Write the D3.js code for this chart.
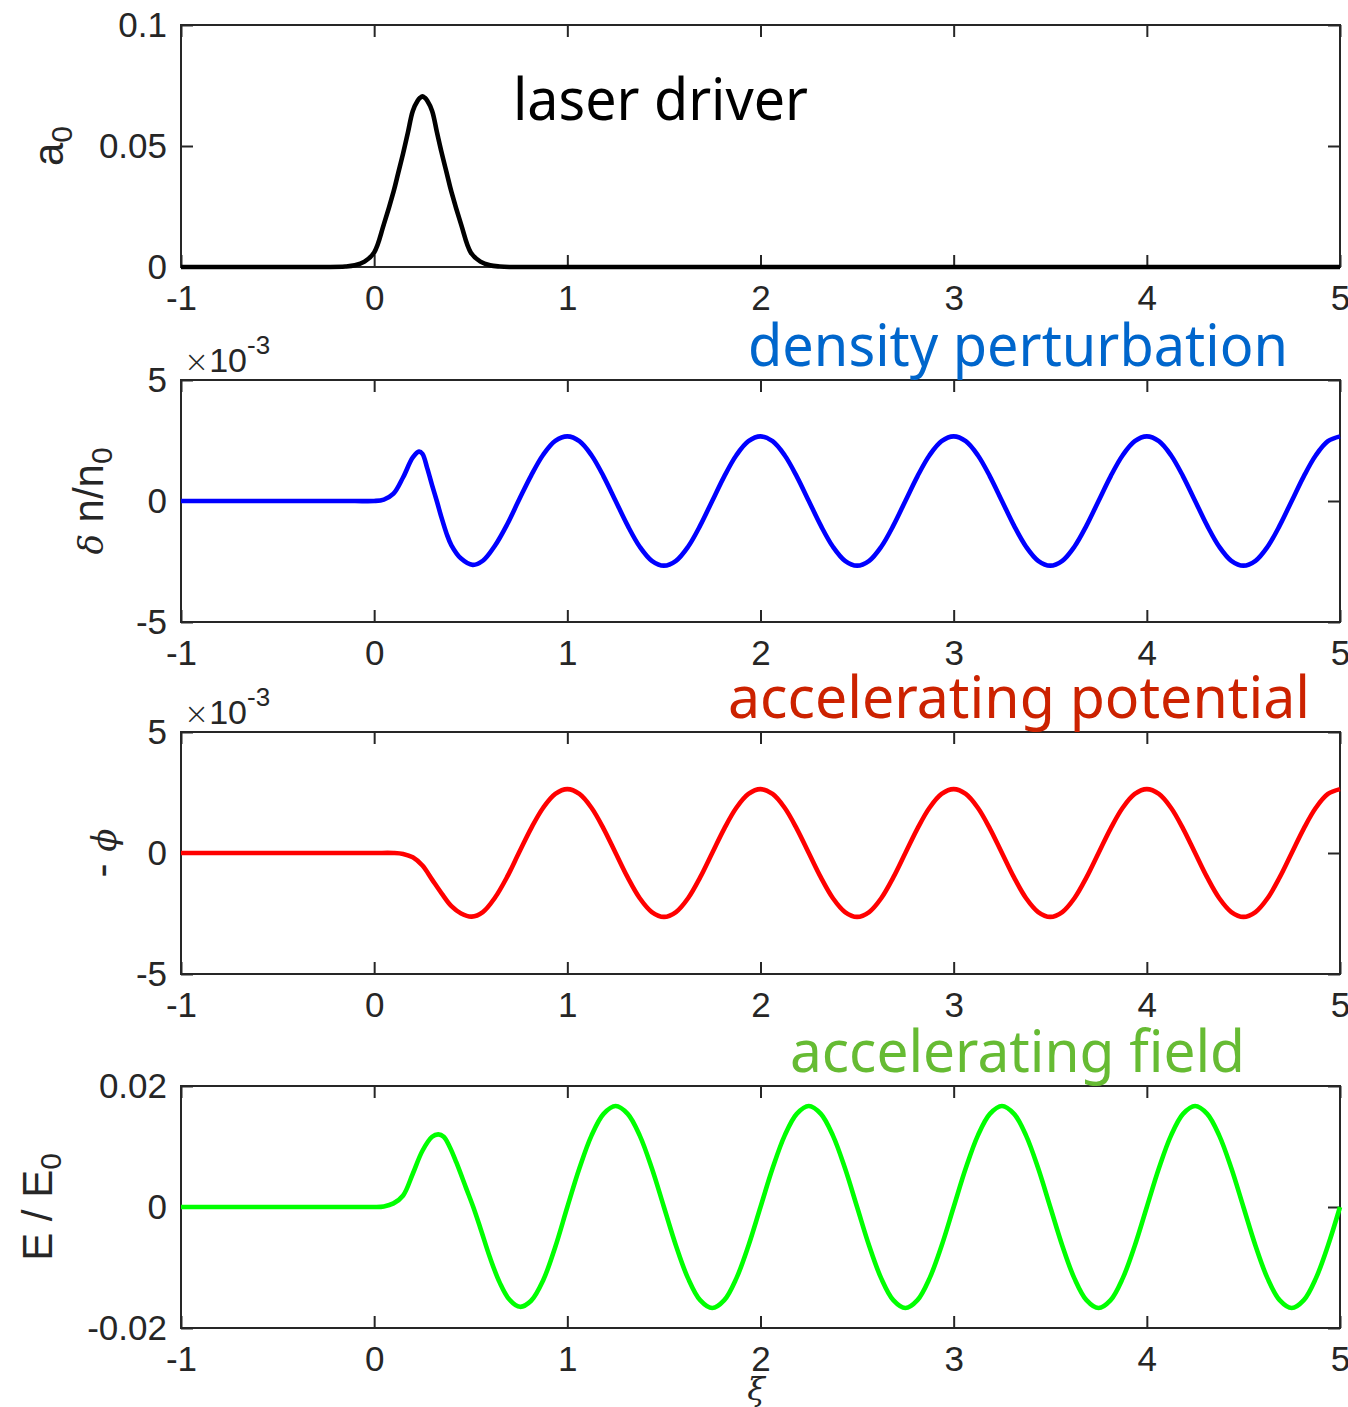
<!DOCTYPE html>
<html>
<head>
<meta charset="utf-8">
<script src="https://d3js.org/d3.v7.min.js"></script>
<style>
  body { margin: 0; background: #fff; }
  text { font-family: "Liberation Sans", Arial, sans-serif; }
</style>
</head>
<body>
<div id="viz"></div>
<script>
// shared x ticks (xi)
var xTicks = [-1, 0, 1, 2, 3, 4, 5];

// y ticks of each panel
var a0Ticks = [0, 0.05, 0.1];
var dnTicks = [-5, 0, 5];      // x 10^-3
var phiTicks = [-5, 0, 5];     // x 10^-3
var eTicks = [-0.02, 0, 0.02];

// laser driver a0
var laserX = [-1, -0.5, -0.25, -0.15, -0.1, -0.05, 0, 0.05, 0.1, 0.125, 0.15, 0.175, 0.2, 0.225, 0.2375, 0.25, 0.2625, 0.275, 0.3, 0.325, 0.35, 0.375, 0.4, 0.45, 0.5, 0.55, 0.6, 0.65, 0.7, 0.8, 1, 2, 3, 4, 5];
var laserY = [0, 0, 0, 0.0002, 0.0007, 0.0022, 0.006, 0.0176, 0.031, 0.039, 0.047, 0.0557, 0.0645, 0.0687, 0.0699, 0.0705, 0.0699, 0.0687, 0.0645, 0.0557, 0.047, 0.039, 0.031, 0.0176, 0.006, 0.0022, 0.0007, 0.0002, 0, 0, 0, 0, 0, 0, 0];

// wake region sample positions, xi = 1 .. 5
var wakeX = [1, 1.0625, 1.125, 1.1875, 1.25, 1.3125, 1.375, 1.4375, 1.5, 1.5625, 1.625, 1.6875, 1.75, 1.8125, 1.875, 1.9375,
  2, 2.0625, 2.125, 2.1875, 2.25, 2.3125, 2.375, 2.4375, 2.5, 2.5625, 2.625, 2.6875, 2.75, 2.8125, 2.875, 2.9375,
  3, 3.0625, 3.125, 3.1875, 3.25, 3.3125, 3.375, 3.4375, 3.5, 3.5625, 3.625, 3.6875, 3.75, 3.8125, 3.875, 3.9375,
  4, 4.0625, 4.125, 4.1875, 4.25, 4.3125, 4.375, 4.4375, 4.5, 4.5625, 4.625, 4.6875, 4.75, 4.8125, 4.875, 4.9375, 5];

// density perturbation (units of 1e-3)
var densityX = [-1, -0.5, -0.25, -0.1, 0, 0.05, 0.1, 0.15, 0.2, 0.232, 0.25, 0.275, 0.3, 0.325, 0.35, 0.375, 0.4, 0.45, 0.51, 0.5625, 0.625, 0.6875, 0.75, 0.8125, 0.875, 0.9375].concat(wakeX);
var densityY = [0, 0, 0, 0, 0, 0.06, 0.3, 0.98, 1.8, 2.04, 1.95, 1.35, 0.65, -0.02, -0.72, -1.35, -1.83, -2.38, -2.64, -2.47, -1.85, -0.98, 0.05, 1.05, 1.91, 2.48,
  2.67, 2.47, 1.89, 1.02, 0, -1.02, -1.89, -2.47, -2.67, -2.47, -1.89, -1.02, 0, 1.02, 1.89, 2.47,
  2.67, 2.47, 1.89, 1.02, 0, -1.02, -1.89, -2.47, -2.67, -2.47, -1.89, -1.02, 0, 1.02, 1.89, 2.47,
  2.67, 2.47, 1.89, 1.02, 0, -1.02, -1.89, -2.47, -2.67, -2.47, -1.89, -1.02, 0, 1.02, 1.89, 2.47,
  2.67, 2.47, 1.89, 1.02, 0, -1.02, -1.89, -2.47, -2.67, -2.47, -1.89, -1.02, 0, 1.02, 1.89, 2.47, 2.67];

// accelerating potential -phi (units of 1e-3)
var potentialX = [-1, -0.5, -0.25, 0, 0.1, 0.15, 0.2, 0.25, 0.3, 0.35, 0.4, 0.45, 0.505, 0.5625, 0.625, 0.6875, 0.75, 0.8125, 0.875, 0.9375].concat(wakeX);
var potentialY = [0, 0, 0, 0, 0, -0.04, -0.18, -0.52, -1.1, -1.68, -2.2, -2.5, -2.63, -2.44, -1.85, -1.0, 0.02, 1.02, 1.87, 2.44,
  2.64, 2.44, 1.87, 1.01, 0, -1.01, -1.87, -2.44, -2.64, -2.44, -1.87, -1.01, 0, 1.01, 1.87, 2.44,
  2.64, 2.44, 1.87, 1.01, 0, -1.01, -1.87, -2.44, -2.64, -2.44, -1.87, -1.01, 0, 1.01, 1.87, 2.44,
  2.64, 2.44, 1.87, 1.01, 0, -1.01, -1.87, -2.44, -2.64, -2.44, -1.87, -1.01, 0, 1.01, 1.87, 2.44,
  2.64, 2.44, 1.87, 1.01, 0, -1.01, -1.87, -2.44, -2.64, -2.44, -1.87, -1.01, 0, 1.01, 1.87, 2.44, 2.64];

// accelerating field E/E0
var fieldX = [-1, -0.5, -0.25, -0.1, 0, 0.05, 0.1, 0.15, 0.2, 0.25, 0.3, 0.332, 0.36, 0.39, 0.425, 0.475, 0.513, 0.55, 0.6, 0.65, 0.7, 0.755, 0.8125, 0.875, 0.9375].concat(wakeX);
var fieldY = [0, 0, 0, 0, 0, 0.0001, 0.0006, 0.0019, 0.0055, 0.0093, 0.0116, 0.012, 0.0116, 0.01, 0.0074, 0.0032, 0, -0.0035, -0.0084, -0.0125, -0.0153, -0.0165, -0.0155, -0.0121, -0.0066,
  0, 0.0064, 0.0118, 0.0154, 0.0167, 0.0154, 0.0118, 0.0064, 0, -0.0064, -0.0118, -0.0154, -0.0167, -0.0154, -0.0118, -0.0064,
  0, 0.0064, 0.0118, 0.0154, 0.0167, 0.0154, 0.0118, 0.0064, 0, -0.0064, -0.0118, -0.0154, -0.0167, -0.0154, -0.0118, -0.0064,
  0, 0.0064, 0.0118, 0.0154, 0.0167, 0.0154, 0.0118, 0.0064, 0, -0.0064, -0.0118, -0.0154, -0.0167, -0.0154, -0.0118, -0.0064,
  0, 0.0064, 0.0118, 0.0154, 0.0167, 0.0154, 0.0118, 0.0064, 0, -0.0064, -0.0118, -0.0154, -0.0167, -0.0154, -0.0118, -0.0064, 0];

var titles = ["laser driver", "density perturbation", "accelerating potential", "accelerating field"];
var titleColors = ["#000000", "#0066cc", "#cc2200", "#66bb33"];
var lineColors = ["#000000", "#0000ff", "#ff0000", "#00ff00"];

// layout
var W = 1348, H = 1407;
var left = 181, right = 1340, plotH = 242;
var axisColor = "#262626";

var svg = d3.select("#viz").append("svg")
  .attr("width", W)
  .attr("height", H);

var x = d3.scaleLinear().domain([-1, 5]).range([left, right]);

var panels = [
  {top: 25, xs: laserX, ys: laserY, domain: [0, 0.1], ticks: a0Ticks,
   title: {x: 513, w: 295, dy: 95}, label: {x: 63}, exp: false},
  {top: 380, xs: densityX, ys: densityY, domain: [-5, 5], ticks: dnTicks,
   title: {x: 748, w: 540, dy: -14}, label: {x: 103}, exp: true},
  {top: 732, xs: potentialX, ys: potentialY, domain: [-5, 5], ticks: phiTicks,
   title: {x: 728, w: 582, dy: -14}, label: {x: 116}, exp: true},
  {top: 1086, xs: fieldX, ys: fieldY, domain: [-0.02, 0.02], ticks: eTicks,
   title: {x: 790, w: 455, dy: -14}, label: {x: 52}, exp: false}
];

function styleAxis(g) {
  g.select(".domain").remove();
  g.selectAll(".tick line").attr("stroke", axisColor).attr("stroke-width", 2);
  g.selectAll(".tick text")
    .attr("fill", axisColor)
    .style("font-size", "35px")
    .style("font-family", "'Liberation Sans', Arial, sans-serif");
}

panels.forEach(function(p, i) {
  var g = svg.append("g").attr("transform", "translate(0," + p.top + ")");
  var y = d3.scaleLinear().domain(p.domain).range([plotH, 0]);

  g.append("rect")
    .attr("x", left).attr("y", 0)
    .attr("width", right - left).attr("height", plotH)
    .attr("fill", "none").attr("stroke", axisColor).attr("stroke-width", 2);

  g.append("g")
    .attr("transform", "translate(0," + plotH + ")")
    .call(d3.axisBottom(x).tickValues(xTicks).tickSizeInner(-12).tickSizeOuter(0)
      .tickPadding(18).tickFormat(function(d) { return String(d); }))
    .call(styleAxis);
  g.append("g")
    .call(d3.axisTop(x).tickValues(xTicks).tickSizeInner(-12).tickSizeOuter(0).tickFormat(""))
    .call(styleAxis);
  g.append("g")
    .attr("transform", "translate(" + left + ",0)")
    .call(d3.axisLeft(y).tickValues(p.ticks).tickSizeInner(-12).tickSizeOuter(0)
      .tickPadding(14).tickFormat(function(d) { return String(d); }))
    .call(styleAxis);
  g.append("g")
    .attr("transform", "translate(" + right + ",0)")
    .call(d3.axisRight(y).tickValues(p.ticks).tickSizeInner(-12).tickSizeOuter(0).tickFormat(""))
    .call(styleAxis);

  var pts = p.xs.map(function(v, k) { return [v, p.ys[k]]; });
  var line = d3.line()
    .x(function(d) { return x(d[0]); })
    .y(function(d) { return y(d[1]); })
    .curve(d3.curveCatmullRom.alpha(0.5));
  g.append("path")
    .datum(pts)
    .attr("d", line)
    .attr("fill", "none")
    .attr("stroke", lineColors[i])
    .attr("stroke-width", 4.6)
    .attr("stroke-linejoin", "round");

  // panel title
  g.append("text")
    .attr("x", p.title.x)
    .attr("y", p.title.dy)
    .attr("textLength", p.title.w)
    .attr("lengthAdjust", "spacingAndGlyphs")
    .style("font-family", "'Noto Sans', 'Open Sans', sans-serif")
    .style("font-size", "58px")
    .attr("fill", titleColors[i])
    .text(titles[i]);

  // x10^-3 multiplier
  if (p.exp) {
    var t = g.append("text")
      .attr("x", 184).attr("y", -8)
      .attr("fill", axisColor)
      .style("font-size", "34px");
    t.append("tspan").style("font-family", "'DejaVu Sans', sans-serif")
      .style("font-weight", "200").style("font-size", "30px").text("\u00d7");
    t.append("tspan").text("10");
    t.append("tspan").attr("dy", -18).style("font-size", "26px").text("-3");
  }
});

// y labels
function yLabel(p, parts) {
  var t = svg.append("text")
    .attr("transform", "translate(" + p.label.x + "," + (p.top + plotH / 2) + ") rotate(-90)")
    .attr("text-anchor", "middle")
    .attr("fill", axisColor)
    .style("font-size", "42px");
  parts.forEach(function(s) {
    var ts = t.append("tspan").text(s.t);
    if (s.it) ts.style("font-family", "'DejaVu Serif', serif").style("font-style", "italic")
      .style("font-size", "34px");
    if (s.sub) ts.attr("dy", 9).style("font-size", "30px");
  });
}
yLabel(panels[0], [{t: "a"}, {t: "0", sub: true}]);
yLabel(panels[1], [{t: "\u03b4", it: true}, {t: " n/n"}, {t: "0", sub: true}]);
yLabel(panels[2], [{t: "- "}, {t: "\u03d5", it: true}]);
yLabel(panels[3], [{t: "E / E"}, {t: "0", sub: true}]);

// x label
svg.append("text")
  .attr("x", 756).attr("y", 1400)
  .attr("text-anchor", "middle")
  .attr("fill", axisColor)
  .style("font-family", "'DejaVu Serif', serif")
  .style("font-style", "italic")
  .style("font-size", "32px")
  .text("\u03be");
</script>
</body>
</html>
